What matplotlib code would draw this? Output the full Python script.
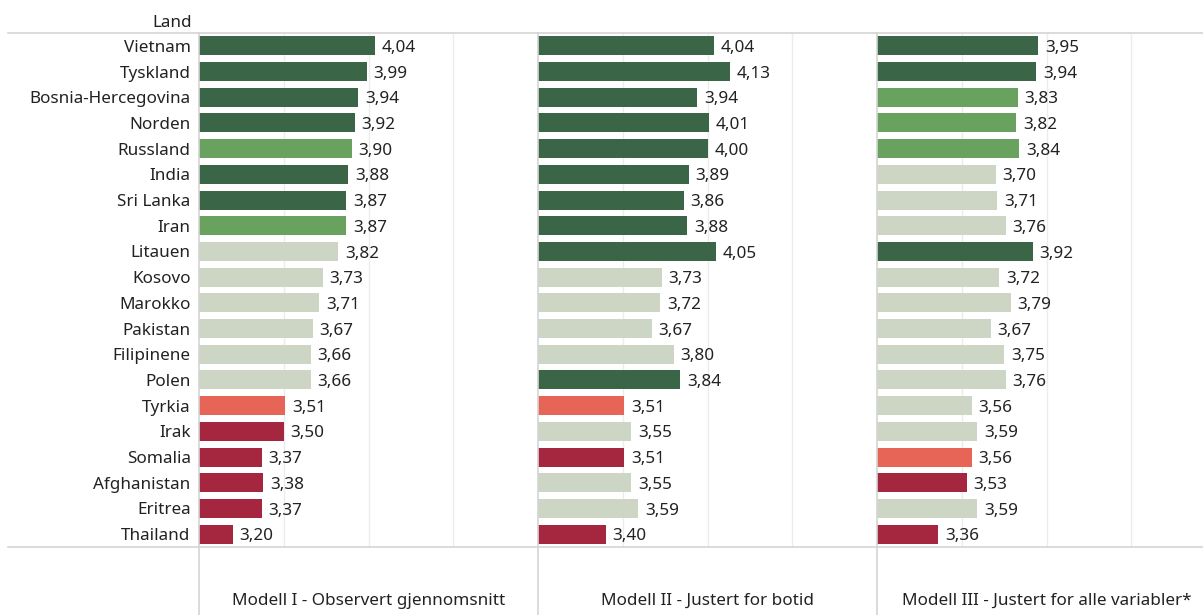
import matplotlib
matplotlib.use("Agg")
import matplotlib.pyplot as plt
from matplotlib.lines import Line2D

plt.rcParams['font.family'] = ['Noto Sans', 'DejaVu Sans']

countries = ["Vietnam", "Tyskland", "Bosnia-Hercegovina", "Norden", "Russland", "India",
             "Sri Lanka", "Iran", "Litauen", "Kosovo", "Marokko", "Pakistan", "Filipinene",
             "Polen", "Tyrkia", "Irak", "Somalia", "Afghanistan", "Eritrea", "Thailand"]

model_titles = ["Modell I - Observert gjennomsnitt",
                "Modell II - Justert for botid",
                "Modell III - Justert for alle variabler*"]

values_m1 = [4.04, 3.99, 3.94, 3.92, 3.90, 3.88, 3.87, 3.87, 3.82, 3.73,
             3.71, 3.67, 3.66, 3.66, 3.51, 3.50, 3.37, 3.38, 3.37, 3.20]
values_m2 = [4.04, 4.13, 3.94, 4.01, 4.00, 3.89, 3.86, 3.88, 4.05, 3.73,
             3.72, 3.67, 3.80, 3.84, 3.51, 3.55, 3.51, 3.55, 3.59, 3.40]
values_m3 = [3.95, 3.94, 3.83, 3.82, 3.84, 3.70, 3.71, 3.76, 3.92, 3.72,
             3.79, 3.67, 3.75, 3.76, 3.56, 3.59, 3.56, 3.53, 3.59, 3.36]

# category codes: DG = dark green, LG = light green, N = neutral, S = salmon, R = red
cats_m1 = ["DG", "DG", "DG", "DG", "LG", "DG", "DG", "LG", "N", "N",
           "N", "N", "N", "N", "S", "R", "R", "R", "R", "R"]
cats_m2 = ["DG", "DG", "DG", "DG", "DG", "DG", "DG", "DG", "DG", "N",
           "N", "N", "N", "DG", "S", "N", "R", "N", "N", "R"]
cats_m3 = ["DG", "DG", "LG", "LG", "LG", "N", "N", "N", "DG", "N",
           "N", "N", "N", "N", "N", "N", "S", "R", "N", "R"]

palette = {"DG": "#3b6547", "LG": "#69a25f", "N": "#cdd6c4",
           "S": "#e66557", "R": "#a5273f"}

W, H = 1203, 615
fig = plt.figure(figsize=(W / 100, H / 100), dpi=100)

FS = 12.3
top_px, bot_px = 33, 547
panel_x = [199, 538, 877]
panel_w = 339
line_col = "#d4d4d4"
txt_col = "#222222"

series = [(values_m1, cats_m1), (values_m2, cats_m2), (values_m3, cats_m3)]
ypos = list(range(len(countries)))

for i, (vals, cats) in enumerate(series):
    ax = fig.add_axes([panel_x[i] / W, 1 - bot_px / H, panel_w / W, (bot_px - top_px) / H])
    ax.barh(ypos, [v - 3.0 for v in vals], left=3.0, height=0.74,
            color=[palette[c] for c in cats], zorder=3)
    for y, v in zip(ypos, vals):
        ax.text(v + 0.04, y + 0.08, f"{v:.2f}".replace(".", ","), va="center", ha="left",
                fontsize=FS, color=txt_col, zorder=4)
    ax.set_xlim(3.0, 5.0)
    ax.set_ylim(len(countries) - 0.5, -0.5)
    ax.set_xticks([3.5, 4.0, 4.5])
    ax.xaxis.grid(True, color="#ececec", lw=1, zorder=0)
    ax.tick_params(axis="x", length=0, labelbottom=False)
    for s in ax.spines.values():
        s.set_visible(False)
    if i == 0:
        ax.set_yticks(ypos)
        ax.set_yticklabels(countries, fontsize=FS, color=txt_col)
        ax.tick_params(axis="y", length=0, pad=6)
    else:
        ax.set_yticks([])
    cx = (panel_x[i] + panel_w / 2) / W
    fig.text(cx, 1 - 601 / H, model_titles[i], ha="center", va="center",
             fontsize=FS, color=txt_col)

# header label
fig.text(192 / W, 1 - 23 / H, "Land", ha="right", va="center", fontsize=FS, color=txt_col)

# frame lines
for yp in (top_px, bot_px):
    fig.add_artist(Line2D([8 / W, 1], [1 - yp / H, 1 - yp / H], color=line_col, lw=1.2))
for xp in panel_x:
    fig.add_artist(Line2D([xp / W, xp / W], [0, 1 - top_px / H], color=line_col, lw=1.2))

fig.savefig("out.png", dpi=100)
